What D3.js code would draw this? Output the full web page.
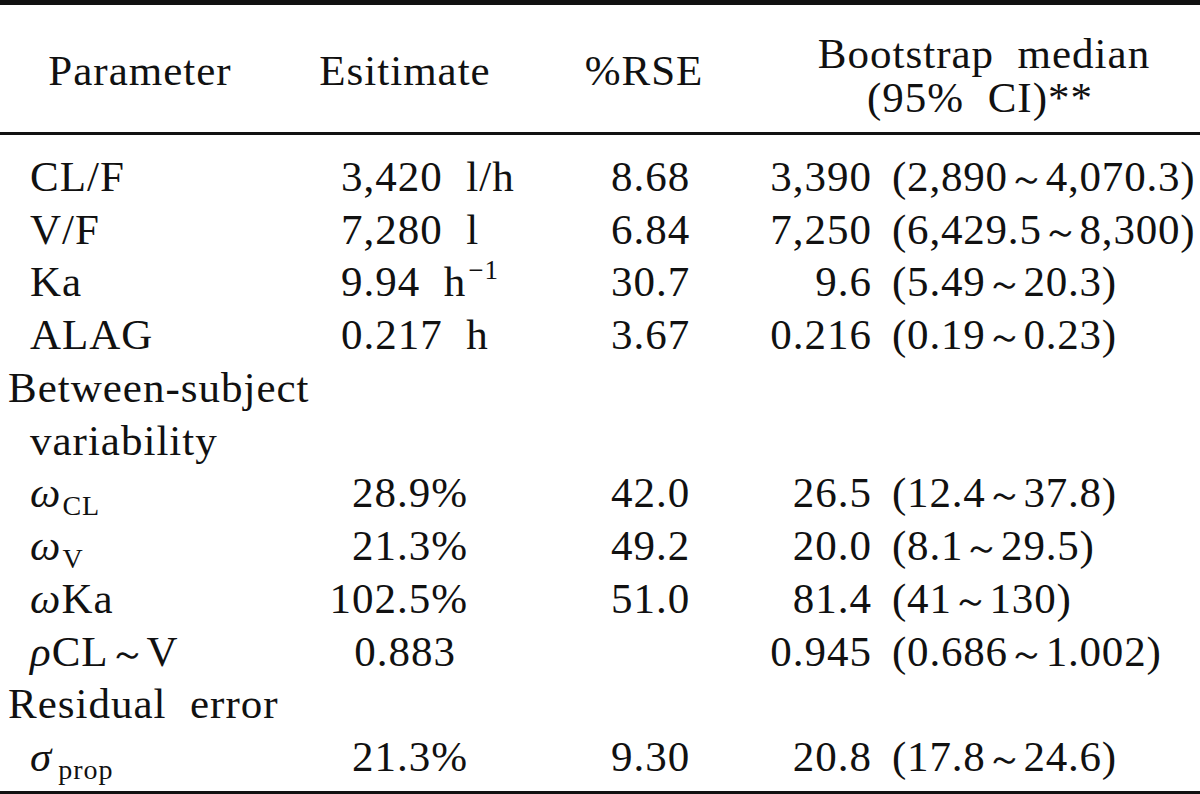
<!DOCTYPE html>
<html>
<head>
<meta charset="utf-8">
<script src="https://cdn.jsdelivr.net/npm/d3@7"></script>
<style>
  html, body { margin: 0; padding: 0; background: #fff; }
  svg { display: block; }
  text { font-family: "Liberation Serif", "Times New Roman", serif; fill: #111; }
</style>
</head>
<body>
<svg id="chart" width="1200" height="794"></svg>
<script>
// ---- data ----
const headers = ["Parameter", "Esitimate", "%RSE", "Bootstrap  median", "(95%  CI)**"];
// "_" = rest is subscript, "^" = rest is superscript
const parameters = ["CL/F", "V/F", "Ka", "ALAG", "Between-subject", "variability",
  "ω_CL", "ω_V", "ωKa", "ρCL～V", "Residual  error", "σ_prop"];
const rowKinds = ["param", "param", "param", "param", "group", "groupCont",
  "param", "param", "param", "param", "group", "param"];
const estimates = ["3,420  l/h", "7,280  l", "9.94  h^−1", "0.217  h", "", "",
  "28.9%", "21.3%", "102.5%", "0.883", "", "21.3%"];
const rse = ["8.68", "6.84", "30.7", "3.67", "", "", "42.0", "49.2", "51.0", "", "", "9.30"];
const bootMedian = ["3,390", "7,250", "9.6", "0.216", "", "", "26.5", "20.0", "81.4", "0.945", "", "20.8"];
const bootCI = ["(2,890～4,070.3)", "(6,429.5～8,300)", "(5.49～20.3)", "(0.19～0.23)", "", "",
  "(12.4～37.8)", "(8.1～29.5)", "(41～130)", "(0.686～1.002)", "", "(17.8～24.6)"];

// ---- layout ----
const W = 1200, H = 794;
const FS = 43;
const svg = d3.select("#chart");

const y = d3.scalePoint().domain(d3.range(parameters.length)).range([191, 771]);

const greek = /[ωρσ]/;

function writeRich(sel, str) {
  let i = 0;
  let buf = "";
  const flush = () => { if (buf) { sel.append("tspan").text(buf); buf = ""; } };
  while (i < str.length) {
    const c = str[i];
    if (c === "_") {
      flush();
      sel.append("tspan").attr("font-size", 28).attr("dy", 8)
        .attr("dx", str.slice(i + 1) === "prop" ? 6 : 1).text(str.slice(i + 1));
      return;
    } else if (c === "^") {
      flush();
      sel.append("tspan").attr("font-size", 27).attr("dy", -17).attr("dx", 2).text(str.slice(i + 1));
      return;
    } else if (greek.test(c)) {
      flush();
      sel.append("tspan").attr("font-style", "italic").text(c);
    } else if (c === "～") {
      flush();
      sel.append("tspan").attr("font-size", 37).text(c);
    } else {
      buf += c;
    }
    i++;
  }
  flush();
}

function cell(x, yy, str, anchor, ls) {
  const t = svg.append("text")
    .attr("x", x).attr("y", yy)
    .attr("text-anchor", anchor)
    .attr("font-size", FS)
    .attr("letter-spacing", ls == null ? 1.0 : ls)
    .style("white-space", "pre");
  writeRich(t, str);
  return t;
}

// rules
svg.append("rect").attr("x", 0).attr("y", 0).attr("width", W).attr("height", 5).attr("fill", "#111");
svg.append("rect").attr("x", 0).attr("y", 132).attr("width", W).attr("height", 3).attr("fill", "#111");
svg.append("rect").attr("x", 0).attr("y", 791).attr("width", W).attr("height", 3).attr("fill", "#111");

// headers
cell(140, 85, headers[0], "middle");
cell(405, 85, headers[1], "middle");
cell(644, 85, headers[2], "middle");
cell(984, 68, headers[3], "middle");
cell(980, 112, headers[4], "middle");

// body
parameters.forEach((p, i) => {
  const k = rowKinds[i];
  const px = k === "group" ? 8 : 30;
  cell(px, y(i), p, "start");

  const e = estimates[i];
  if (e) {
    if (e.endsWith("%")) cell(468, y(i), e, "end");
    else if (e.includes("  ")) cell(341, y(i), e, "start");
    else cell(405, y(i), e, "middle");
  }
  if (rse[i]) cell(611, y(i), rse[i], "start");
  if (bootMedian[i]) cell(872, y(i), bootMedian[i], "end");
  if (bootCI[i]) cell(892, y(i), bootCI[i], "start", 0.8);
});
</script>
</body>
</html>
